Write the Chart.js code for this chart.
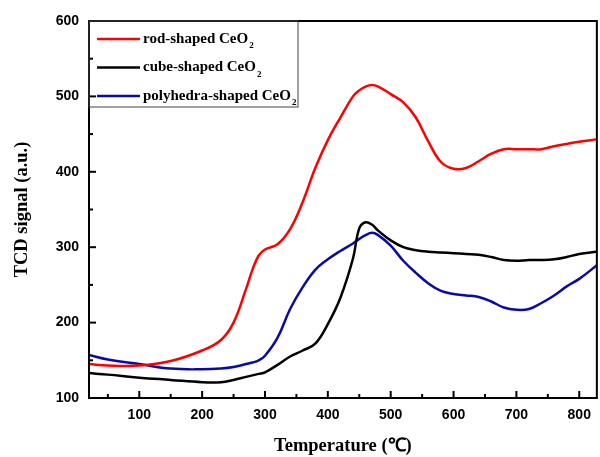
<!DOCTYPE html>
<html>
<head>
<meta charset="utf-8">
<script src="https://cdn.jsdelivr.net/npm/chart.js@4/dist/chart.umd.min.js"></script>
<style>
  html, body { margin: 0; padding: 0; background: #fff; }
  #wrap { width: 600px; height: 457px; }
</style>
</head>
<body>
<div id="wrap"><canvas id="tpr"></canvas></div>
<script>
// temperature grid (°C) shared by all three curves
const temps = [20, 50, 100, 150, 200, 230, 250, 270, 280, 290, 300, 320, 340, 360, 380, 400, 420, 440, 450, 460, 470, 480, 500, 520, 540, 560, 580, 600, 620, 640, 660, 680, 700, 720, 740, 760, 780, 800, 828];

const rodSignal = [145, 143, 143, 149, 163, 177, 200, 245, 270, 289, 297, 304, 324, 360, 405, 442, 472, 500, 508, 513, 515, 513, 503, 492, 472, 440, 413, 404, 405, 414, 424, 430, 430, 430, 430, 434, 437, 440, 443];
const cubeSignal = [133, 131, 127, 124, 121, 121, 124, 128, 130, 132, 134, 144, 155, 163, 172, 198, 233, 285, 325, 333, 330, 322, 309, 300, 296, 294, 293, 292, 291, 290, 287, 283, 282, 283, 283, 284, 287, 291, 294];
const polySignal = [157, 151, 145, 139, 138, 139, 141, 145, 147, 150, 156, 180, 218, 247, 270, 284, 295, 305, 311, 316, 319, 316, 302, 282, 266, 252, 242, 238, 236, 234, 228, 220, 217, 218, 226, 236, 248, 258, 276];

const seriesLabels = ["rod-shaped CeO", "cube-shaped CeO", "polyhedra-shaped CeO"];
const seriesColors = ["#ff0000", "#000000", "#0a0aa6"];

const xTickValues = [100, 200, 300, 400, 500, 600, 700, 800];
const yTickValues = [100, 200, 300, 400, 500, 600];

function toPoints(vals) {
  return temps.map((t, i) => ({ x: t, y: vals[i] }));
}

// frame, inward ticks and the boxed legend with subscript 2
const framePlugin = {
  id: "frame",
  afterDraw(chart) {
    const { ctx, chartArea: a, scales } = chart;
    ctx.save();
    ctx.strokeStyle = "#000";
    ctx.lineWidth = 2;
    ctx.strokeRect(a.left, a.top, a.right - a.left, a.bottom - a.top);

    for (let v = 50; v <= 800; v += 50) {
      const px = scales.x.getPixelForValue(v);
      const len = v % 100 === 0 ? 7 : 4;
      ctx.beginPath();
      ctx.moveTo(px, a.bottom);
      ctx.lineTo(px, a.bottom - len);
      ctx.stroke();
    }
    for (let v = 150; v < 600; v += 50) {
      const py = scales.y.getPixelForValue(v);
      const len = v % 100 === 0 ? 7 : 4;
      ctx.beginPath();
      ctx.moveTo(a.left, py);
      ctx.lineTo(a.left + len, py);
      ctx.stroke();
    }

    // legend box
    const bx = a.left, by = a.top, bw = 209, bh = 86;
    ctx.lineWidth = 1;
    ctx.strokeStyle = "#444";
    ctx.strokeRect(bx, by, bw, bh);
    chart.data.datasets.forEach((ds, i) => {
      const rowY = by + 18 + i * 28.5;
      ctx.strokeStyle = ds.borderColor;
      ctx.lineWidth = 2.5;
      ctx.beginPath();
      ctx.moveTo(bx + 8, rowY);
      ctx.lineTo(bx + 51, rowY);
      ctx.stroke();
      ctx.fillStyle = "#000";
      ctx.textBaseline = "middle";
      ctx.font = "bold 15px 'Liberation Serif', 'Times New Roman', serif";
      ctx.fillText(ds.label, bx + 54, rowY);
      const w = ctx.measureText(ds.label).width;
      ctx.font = "bold 9px 'Liberation Serif', 'Times New Roman', serif";
      ctx.fillText("2", bx + 55 + w, rowY + 7);
    });
    ctx.restore();
  }
};

new Chart(document.getElementById("tpr"), {
  type: "line",
  data: {
    datasets: [rodSignal, cubeSignal, polySignal].map((vals, i) => ({
      label: seriesLabels[i],
      data: toPoints(vals),
      borderColor: seriesColors[i],
      backgroundColor: seriesColors[i],
      borderWidth: 2.5,
      pointRadius: 0,
      tension: 0.4,
      fill: false,
    })),
  },
  options: {
    responsive: true,
    maintainAspectRatio: false,
    animation: false,
    layout: { padding: { top: 21, right: 2, left: 11, bottom: 0 } },
    plugins: {
      legend: { display: false },
      tooltip: { enabled: false },
    },
    scales: {
      x: {
        type: "linear",
        min: 20,
        max: 828,
        grid: { display: false, drawTicks: false },
        border: { display: false },
        afterBuildTicks: (scale) => {
          scale.ticks = xTickValues.map((v) => ({ value: v }));
        },
        afterFit: (scale) => { scale.height = 59; },
        ticks: {
          color: "#000",
          padding: 9,
          maxRotation: 0,
          font: { family: "'Liberation Sans', Arial, sans-serif", size: 14, weight: "bold" },
        },
        title: {
          display: true,
          text: "Temperature (℃)",
          color: "#000",
          padding: { top: 8, bottom: 0 },
          font: { family: "'Liberation Serif', 'Times New Roman', serif", size: 18.5, weight: "bold" },
        },
      },
      y: {
        min: 100,
        max: 600,
        grid: { display: false, drawTicks: false },
        border: { display: false },
        afterBuildTicks: (scale) => {
          scale.ticks = yTickValues.map((v) => ({ value: v }));
        },
        afterFit: (scale) => { scale.width = 78; },
        ticks: {
          color: "#000",
          padding: 10,
          font: { family: "'Liberation Sans', Arial, sans-serif", size: 14, weight: "bold" },
        },
        title: {
          display: true,
          text: "TCD signal (a.u.)",
          color: "#000",
          padding: { top: 0, bottom: 0 },
          font: { family: "'Liberation Serif', 'Times New Roman', serif", size: 18.5, weight: "bold" },
        },
      },
    },
  },
  plugins: [framePlugin],
});
</script>
</body>
</html>
